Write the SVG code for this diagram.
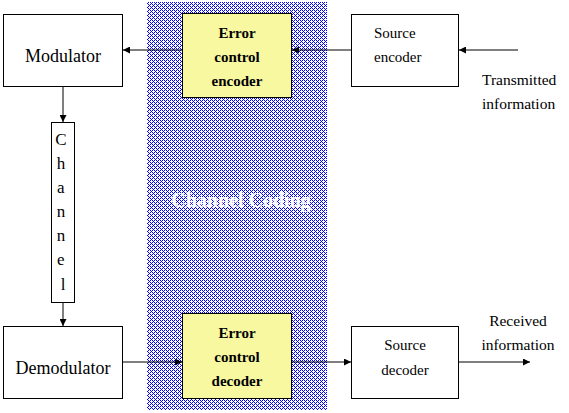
<svg xmlns="http://www.w3.org/2000/svg" width="569" height="413" viewBox="0 0 569 413">
<style>
.box{fill:#fff;stroke:#000;stroke-width:1}
.ybox{fill:#F8F8A0;stroke:#000;stroke-width:1}
.ln{stroke:#000;stroke-width:1;fill:none}
text{font-family:'Liberation Serif','Times New Roman','DejaVu Serif',serif;fill:#000}
.b{font-weight:bold;font-size:15px;text-anchor:middle}
</style>
<defs>
<pattern id="dots" width="4" height="4" patternUnits="userSpaceOnUse">
<rect width="4" height="4" fill="#fff"/>
<rect x="0" y="0" width="1" height="1" fill="#0000FF"/>
<rect x="2" y="0" width="1" height="1" fill="#0000FF"/>
<rect x="0" y="2" width="1" height="1" fill="#0000FF"/>
<rect x="2" y="2" width="1" height="1" fill="#0000FF"/>
<rect x="1" y="1" width="1" height="1" fill="#0000FF"/>
<rect x="3" y="3" width="1" height="1" fill="#0000FF"/>
</pattern>
<marker id="ah" viewBox="0 0 7 7" refX="7" refY="3.5" markerWidth="7" markerHeight="7" markerUnits="userSpaceOnUse" orient="auto">
<path d="M0,0 L7,3.5 L0,7 z" fill="#000"/>
</marker>
</defs>
<rect width="569" height="413" fill="#fff"/>
<g id="channel-coding-region">
<rect x="147" y="2" width="180" height="408" fill="url(#dots)"/>
<text x="241" y="207" font-size="20" font-weight="bold" style="fill:#fff" text-anchor="middle">Channel Coding</text>
</g>
<g id="connectors">
<line class="ln" x1="182" y1="50" x2="123" y2="50" marker-end="url(#ah)"/>
<line class="ln" x1="351" y1="50" x2="292" y2="50" marker-end="url(#ah)"/>
<line class="ln" x1="518" y1="50" x2="459" y2="50" marker-end="url(#ah)"/>
<line class="ln" x1="63" y1="86" x2="63" y2="122" marker-end="url(#ah)"/>
<line class="ln" x1="63" y1="302" x2="63" y2="326" marker-end="url(#ah)"/>
<line class="ln" x1="122" y1="362" x2="182" y2="362" marker-end="url(#ah)"/>
<line class="ln" x1="291" y1="362" x2="351" y2="362" marker-end="url(#ah)"/>
<line class="ln" x1="458" y1="362" x2="530" y2="362" marker-end="url(#ah)"/>
</g>
<g id="modulator">
<rect class="box" x="3.5" y="14.5" width="119" height="72"/>
<text x="63" y="62" font-size="18" text-anchor="middle">Modulator</text>
</g>
<g id="error-control-encoder">
<rect class="ybox" x="182.5" y="13.5" width="109" height="84"/>
<text x="237" y="38" class="b">Error</text>
<text x="237" y="62" class="b">control</text>
<text x="237" y="86" class="b">encoder</text>
</g>
<g id="source-encoder">
<rect class="box" x="351.5" y="14.5" width="107" height="72"/>
<text x="374" y="38" font-size="15">Source</text>
<text x="374" y="62" font-size="15">encoder</text>
</g>
<g id="transmitted-information">
<text x="482" y="85" font-size="15.5">Transmitted</text>
<text x="482" y="109" font-size="15.5">information</text>
</g>
<g id="channel">
<rect class="box" x="51.5" y="122.5" width="23" height="180"/>
<text font-size="17" text-anchor="middle">
<tspan x="63" y="145">C</tspan>
<tspan x="63" y="169">h</tspan>
<tspan x="63" y="193">a</tspan>
<tspan x="63" y="217">n</tspan>
<tspan x="63" y="241">n</tspan>
<tspan x="63" y="265">e</tspan>
<tspan x="63" y="290">l</tspan>
</text>
</g>
<g id="demodulator">
<rect class="box" x="3.5" y="326.5" width="119" height="72"/>
<text x="63" y="374" font-size="18" text-anchor="middle">Demodulator</text>
</g>
<g id="error-control-decoder">
<rect class="ybox" x="182.5" y="313.5" width="109" height="85"/>
<text x="237" y="338" class="b">Error</text>
<text x="237" y="362" class="b">control</text>
<text x="237" y="386" class="b">decoder</text>
</g>
<g id="source-decoder">
<rect class="box" x="351.5" y="326.5" width="107" height="72"/>
<text x="405" y="350" font-size="15" text-anchor="middle">Source</text>
<text x="405" y="375" font-size="15" text-anchor="middle">decoder</text>
</g>
<g id="received-information">
<text x="518" y="326" font-size="15.5" text-anchor="middle">Received</text>
<text x="518" y="350" font-size="15.5" text-anchor="middle">information</text>
</g>
</svg>
